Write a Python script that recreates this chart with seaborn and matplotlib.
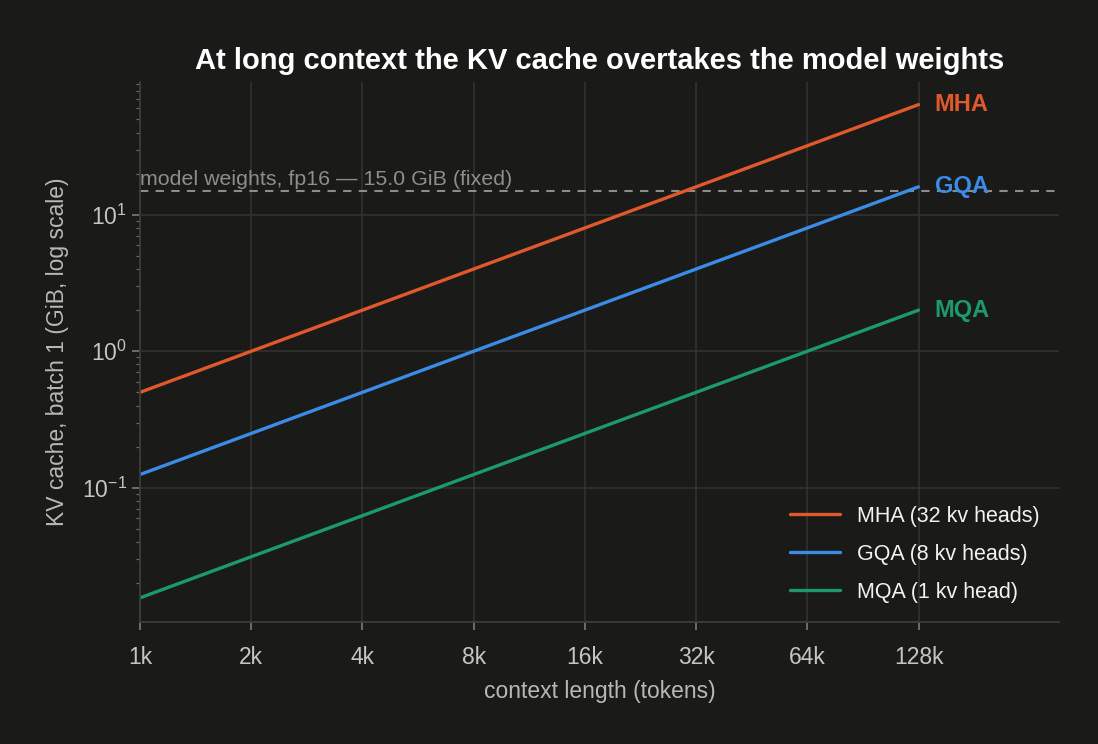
import numpy as np
import pandas as pd
import seaborn as sns
import matplotlib.pyplot as plt
from matplotlib.ticker import FixedLocator, FixedFormatter, NullLocator

# context lengths in tokens and KV cache size (GiB, batch 1)
context = [1024, 2048, 4096, 8192, 16384, 32768, 65536, 131072]
tick_labels = ["1k", "2k", "4k", "8k", "16k", "32k", "64k", "128k"]
mha = [0.5, 1, 2, 4, 8, 16, 32, 64]
gqa = [0.125, 0.25, 0.5, 1, 2, 4, 8, 16]
mqa = [0.015625, 0.03125, 0.0625, 0.125, 0.25, 0.5, 1, 2]
series_names = ["MHA (32 kv heads)", "GQA (8 kv heads)", "MQA (1 kv head)"]
short_names = ["MHA", "GQA", "MQA"]
weights_gib = 15.0

BG = "#1a1a19"
colors = ["#e0592a", "#3a8ce6", "#1c9a6e"]

df = pd.DataFrame({
    "context": context * 3,
    "kv": mha + gqa + mqa,
    "scheme": sum([[n] * len(context) for n in series_names], []),
})

sns.set_theme(style="dark")
plt.rcParams["font.family"] = ["Liberation Sans", "DejaVu Sans"]
plt.rcParams["mathtext.fontset"] = "custom"
plt.rcParams["mathtext.rm"] = "Liberation Sans"
plt.rcParams["mathtext.it"] = "Liberation Sans:italic"

fig, ax = plt.subplots(figsize=(10.98, 7.44), dpi=100)
fig.patch.set_facecolor(BG)
ax.set_facecolor(BG)

sns.lineplot(data=df, x="context", y="kv", hue="scheme", palette=colors,
             linewidth=2.4, ax=ax)
ax.set_xscale("log", base=2)
ax.set_yscale("log")
ax.set_xlim(1024, 131072 * 2.4)
ax.set_ylim(0.0104, 94)

ax.axhline(weights_gib, color="#8c8c88", linestyle=(0, (4, 3.5)), linewidth=1.5, zorder=1)
ax.text(1024, weights_gib * 1.03, f"model weights, fp16 — {weights_gib:.1f} GiB (fixed)",
        color="#8e8e8a", fontsize=15.4, ha="left", va="bottom")

for name, vals, c in zip(short_names, [mha, gqa, mqa], colors):
    ax.annotate(name, (context[-1], vals[-1]), xytext=(11.5, 0), textcoords="offset points",
                color=c, fontsize=17, fontweight="bold", va="center", ha="left")

ax.xaxis.set_major_locator(FixedLocator(context))
ax.xaxis.set_major_formatter(FixedFormatter(tick_labels))
ax.xaxis.set_minor_locator(NullLocator())

ax.grid(True, which="major", color="#333331", linewidth=1.1)
ax.grid(False, which="minor")
for side in ["top", "right"]:
    ax.spines[side].set_visible(False)
for side in ["left", "bottom"]:
    ax.spines[side].set_color("#3c3c3a")
    ax.spines[side].set_linewidth(1.3)

ax.tick_params(axis="both", which="major", colors="#7c7c78", labelcolor="#c6c6bf",
               labelsize=16.5, length=6, width=1.2, bottom=True, left=True)
ax.tick_params(axis="y", which="minor", colors="#6a6a66", length=3, width=0.9, left=True)
ax.tick_params(axis="x", pad=11)

ax.set_xlabel("context length (tokens)", color="#b9b9b2", fontsize=16.5, labelpad=8)
ax.set_ylabel("KV cache, batch 1 (GiB, log scale)", color="#b9b9b2", fontsize=16.5, labelpad=9)
ax.set_title("At long context the KV cache overtakes the model weights",
             color="white", fontsize=21, fontweight="bold", pad=9)

leg = ax.legend(loc="lower right", frameon=False, fontsize=15.5, handlelength=2.3,
                labelspacing=0.78, borderaxespad=0.5, title=None)
for t in leg.get_texts():
    t.set_color("#f2f2ee")

fig.subplots_adjust(left=0.1275, right=0.9645, top=0.89, bottom=0.164)
fig.savefig("out.png", dpi=100, facecolor=BG)
